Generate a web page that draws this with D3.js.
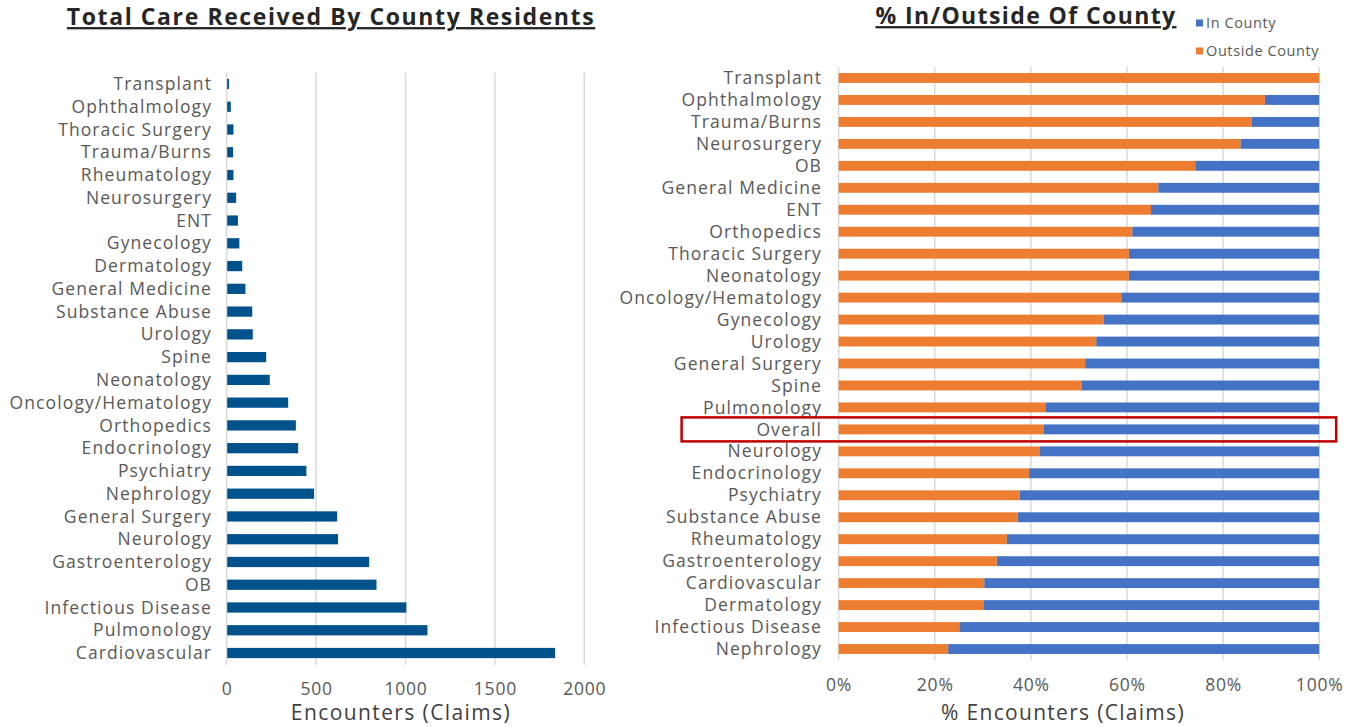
<!DOCTYPE html>
<html>
<head>
<meta charset="UTF-8">
<title>County Care</title>
<style>
  body { margin: 0; background: #ffffff; }
  svg { display: block; font-family: "Open Sans", sans-serif; }
</style>
<script src="https://d3js.org/d3.v7.min.js"></script>
</head>
<body>
<script>
// left chart: total encounters per specialty
const totalCats = ["Transplant", "Ophthalmology", "Thoracic Surgery", "Trauma/Burns", "Rheumatology",
  "Neurosurgery", "ENT", "Gynecology", "Dermatology", "General Medicine", "Substance Abuse", "Urology",
  "Spine", "Neonatology", "Oncology/Hematology", "Orthopedics", "Endocrinology", "Psychiatry",
  "Nephrology", "General Surgery", "Neurology", "Gastroenterology", "OB", "Infectious Disease",
  "Pulmonology", "Cardiovascular"];
const totalVals = [10, 20, 35, 33, 35, 50, 60, 68, 84, 102, 140, 143, 218, 238, 341, 384, 397, 443,
  486, 615, 620, 794, 835, 1002, 1120, 1834];
const totalTicks = [0, 500, 1000, 1500, 2000];

// right chart: share outside county (in county = 100 - outside)
const pctCats = ["Transplant", "Ophthalmology", "Trauma/Burns", "Neurosurgery", "OB", "General Medicine",
  "ENT", "Orthopedics", "Thoracic Surgery", "Neonatology", "Oncology/Hematology", "Gynecology", "Urology",
  "General Surgery", "Spine", "Pulmonology", "Overall", "Neurology", "Endocrinology", "Psychiatry",
  "Substance Abuse", "Rheumatology", "Gastroenterology", "Cardiovascular", "Dermatology",
  "Infectious Disease", "Nephrology"];
const outsideVals = [100, 88.7, 86.0, 83.6, 74.2, 66.5, 65.0, 61.1, 60.4, 60.4, 58.8, 55.1, 53.6, 51.3,
  50.5, 43.0, 42.6, 41.9, 39.6, 37.7, 37.3, 35.0, 32.9, 30.3, 30.1, 25.1, 22.8];
const pctTicks = [0, 20, 40, 60, 80, 100];
const legendItems = ["In County", "Outside County"];

const W = 1357, H = 727;
const labelColor = "#595959", gridColor = "#d9d9d9";
const navy = "#00528c", orange = "#ed7d31", blue = "#4472c4";

const svg = d3.select("body").append("svg").attr("width", W).attr("height", H);

// ---- left chart ----
const xL = d3.scaleLinear().domain([0, 2000]).range([226.7, 584.3]);
const yL = d3.scaleBand().domain(totalCats).range([72.6, 664.4]).paddingInner(0.55).paddingOuter(0.275);

const gL = svg.append("g");
gL.selectAll("line.grid").data(totalTicks).enter().append("line")
  .attr("x1", d => xL(d)).attr("x2", d => xL(d))
  .attr("y1", 72.6).attr("y2", 665)
  .attr("stroke", gridColor).attr("stroke-width", 1.5);

gL.selectAll("rect").data(totalCats).enter().append("rect")
  .attr("x", xL(0) + 0.5)
  .attr("y", d => yL(d))
  .attr("width", (d, i) => xL(totalVals[i]) - xL(0))
  .attr("height", yL.bandwidth())
  .attr("fill", navy);

gL.selectAll("text.cat").data(totalCats).enter().append("text")
  .attr("x", 212).attr("y", d => yL(d) + yL.bandwidth() / 2)
  .attr("dy", "0.35em").attr("text-anchor", "end")
  .attr("font-size", 17.5).attr("letter-spacing", 1.1).attr("fill", labelColor).text(d => d);

gL.selectAll("text.tick").data(totalTicks).enter().append("text")
  .attr("x", d => xL(d) + 0.5).attr("y", 689).attr("dy", "0.35em")
  .attr("text-anchor", "middle").attr("font-size", 17.5).attr("letter-spacing", 0.8)
  .attr("fill", labelColor).text(d => d);

gL.append("text").attr("x", 401).attr("y", 713).attr("dy", "0.35em")
  .attr("text-anchor", "middle").attr("font-size", 21).attr("letter-spacing", 1.4)
  .attr("fill", "#404040").text("Encounters (Claims)");

gL.append("text").attr("x", 331).attr("y", 17).attr("dy", "0.35em")
  .attr("text-anchor", "middle").attr("font-size", 23).attr("font-weight", "bold")
  .attr("letter-spacing", 1.6).attr("fill", "#262626").attr("text-decoration", "underline")
  .text("Total Care Received By County Residents");

// ---- right chart ----
const xR = d3.scaleLinear().domain([0, 100]).range([838.6, 1319.2]);
const yR = d3.scaleBand().domain(pctCats).range([67, 660]).paddingInner(0.55).paddingOuter(0.275);

const gR = svg.append("g");
gR.selectAll("line.grid").data(pctTicks).enter().append("line")
  .attr("x1", d => xR(d)).attr("x2", d => xR(d))
  .attr("y1", 67).attr("y2", 660)
  .attr("stroke", gridColor).attr("stroke-width", 1.5);

const rows = gR.selectAll("g.row").data(pctCats).enter().append("g")
  .attr("transform", d => `translate(0,${yR(d)})`);
rows.append("rect")
  .attr("x", (d, i) => xR(outsideVals[i]))
  .attr("width", (d, i) => xR(100) - xR(outsideVals[i]))
  .attr("height", yR.bandwidth()).attr("fill", blue);
rows.append("rect")
  .attr("x", xR(0))
  .attr("width", (d, i) => xR(outsideVals[i]) - xR(0))
  .attr("height", yR.bandwidth()).attr("fill", orange);
rows.append("text")
  .attr("x", 822).attr("y", yR.bandwidth() / 2).attr("dy", "0.35em")
  .attr("text-anchor", "end").attr("font-size", 17.5).attr("letter-spacing", 1.1)
  .attr("fill", labelColor).text(d => d);

// highlight box round "Overall"
const oy = yR("Overall") + yR.bandwidth() / 2;
gR.append("rect")
  .attr("x", xR(0) - 157).attr("y", oy - 12)
  .attr("width", xR(100) - xR(0) + 174).attr("height", 24)
  .attr("fill", "none").attr("stroke", "#c00000").attr("stroke-width", 2.5);

gR.selectAll("text.tick").data(pctTicks).enter().append("text")
  .attr("x", d => xR(d) + 0.5).attr("y", 685).attr("dy", "0.35em")
  .attr("text-anchor", "middle").attr("font-size", 17.5).attr("letter-spacing", 0.8)
  .attr("fill", labelColor).text(d => d + "%");

gR.append("text").attr("x", 1063).attr("y", 713).attr("dy", "0.35em")
  .attr("text-anchor", "middle").attr("font-size", 21).attr("letter-spacing", 1.3)
  .attr("fill", "#404040").text("% Encounters (Claims)");

gR.append("text").attr("x", 1026).attr("y", 16).attr("dy", "0.35em")
  .attr("text-anchor", "middle").attr("font-size", 23).attr("font-weight", "bold")
  .attr("letter-spacing", 1.4).attr("fill", "#262626").attr("text-decoration", "underline")
  .text("% In/Outside Of County");

const legend = gR.selectAll("g.leg").data(legendItems).enter().append("g")
  .attr("transform", (d, i) => `translate(1196,${23 + i * 28})`);
legend.append("rect").attr("x", 0).attr("y", -3.5).attr("width", 7).attr("height", 7)
  .attr("fill", (d, i) => i === 0 ? blue : orange);
legend.append("text").attr("x", 10).attr("dy", "0.35em")
  .attr("font-size", 14.5).attr("letter-spacing", 0.6).attr("fill", labelColor).text(d => d);
</script>
</body>
</html>
